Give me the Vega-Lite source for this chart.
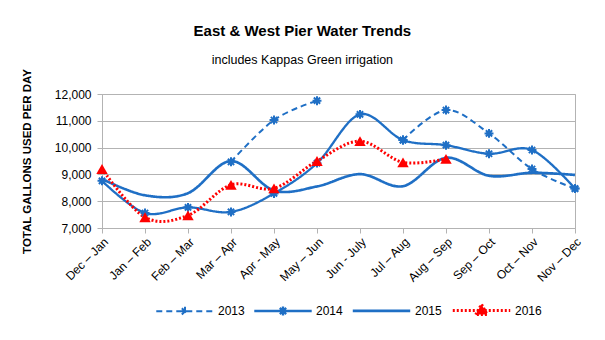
{
  "$schema": "https://vega.github.io/schema/vega-lite/v6.json",
  "width": 473,
  "height": 134,
  "padding": {"left": 21, "top": 23, "right": 10, "bottom": 5},
  "background": "white",
  "title": {
    "text": "East & West Pier Water Trends",
    "subtitle": "includes Kappas Green irrigation",
    "font": "Liberation Sans",
    "fontSize": 15,
    "fontWeight": "bold",
    "color": "#000000",
    "subtitleFont": "Liberation Sans",
    "subtitleFontSize": 12.5,
    "subtitleColor": "#000000",
    "subtitlePadding": 15,
    "anchor": "middle",
    "frame": "bounds",
    "offset": 2
  },
  "config": {
    "view": {"stroke": "#b3b3b3", "strokeWidth": 1},
    "font": "Liberation Sans",
    "axis": {
      "labelFont": "Liberation Sans",
      "labelFontSize": 12,
      "labelColor": "#000000",
      "domainColor": "#b3b3b3",
      "tickColor": "#b3b3b3",
      "gridColor": "#b3b3b3",
      "tickSize": 5
    }
  },
  "data": {
    "values": [
      {"period": "Mar – Apr", "year": "2013", "gallons": 9470},
      {"period": "Apr - May", "year": "2013", "gallons": 11030},
      {"period": "May – Jun", "year": "2013", "gallons": 11750},
      {"period": "Jun - July", "year": "2013", "gallons": null},
      {"period": "Jul – Aug", "year": "2013", "gallons": 10280},
      {"period": "Aug – Sep", "year": "2013", "gallons": 11400},
      {"period": "Sep – Oct", "year": "2013", "gallons": 10530},
      {"period": "Oct – Nov", "year": "2013", "gallons": 9200},
      {"period": "Nov – Dec", "year": "2013", "gallons": 8470},

      {"period": "Dec – Jan", "year": "2014", "gallons": 8760},
      {"period": "Jan – Feb", "year": "2014", "gallons": 7560},
      {"period": "Feb – Mar", "year": "2014", "gallons": 7770},
      {"period": "Mar – Apr", "year": "2014", "gallons": 7600},
      {"period": "Apr - May", "year": "2014", "gallons": 8290},
      {"period": "May – Jun", "year": "2014", "gallons": 9420},
      {"period": "Jun - July", "year": "2014", "gallons": 11240},
      {"period": "Jul – Aug", "year": "2014", "gallons": 10280},
      {"period": "Aug – Sep", "year": "2014", "gallons": 10090},
      {"period": "Sep – Oct", "year": "2014", "gallons": 9770},
      {"period": "Oct – Nov", "year": "2014", "gallons": 9910},
      {"period": "Nov – Dec", "year": "2014", "gallons": 8470},

      {"period": "Dec – Jan", "year": "2015", "gallons": 8830},
      {"period": "Jan – Feb", "year": "2015", "gallons": 8220},
      {"period": "Feb – Mar", "year": "2015", "gallons": 8300},
      {"period": "Mar – Apr", "year": "2015", "gallons": 9500},
      {"period": "Apr - May", "year": "2015", "gallons": 8400},
      {"period": "May – Jun", "year": "2015", "gallons": 8550},
      {"period": "Jun - July", "year": "2015", "gallons": 9010},
      {"period": "Jul – Aug", "year": "2015", "gallons": 8560},
      {"period": "Aug – Sep", "year": "2015", "gallons": 9620},
      {"period": "Sep – Oct", "year": "2015", "gallons": 8950},
      {"period": "Oct – Nov", "year": "2015", "gallons": 9060},
      {"period": "Nov – Dec", "year": "2015", "gallons": 8980},

      {"period": "Dec – Jan", "year": "2016", "gallons": 9200},
      {"period": "Jan – Feb", "year": "2016", "gallons": 7400},
      {"period": "Feb – Mar", "year": "2016", "gallons": 7470},
      {"period": "Mar – Apr", "year": "2016", "gallons": 8610},
      {"period": "Apr - May", "year": "2016", "gallons": 8480},
      {"period": "May – Jun", "year": "2016", "gallons": 9500},
      {"period": "Jun - July", "year": "2016", "gallons": 10240},
      {"period": "Jul – Aug", "year": "2016", "gallons": 9450},
      {"period": "Aug – Sep", "year": "2016", "gallons": 9580}
    ]
  },
  "encoding": {
    "x": {
      "field": "period",
      "type": "ordinal",
      "sort": ["Dec – Jan", "Jan – Feb", "Feb – Mar", "Mar – Apr", "Apr - May", "May – Jun", "Jun - July", "Jul – Aug", "Aug – Sep", "Sep – Oct", "Oct – Nov", "Nov – Dec"],
      "scale": {"type": "point", "padding": 0},
      "axis": {"title": null, "labelAngle": -45, "labelPadding": 3, "grid": false, "domain": true}
    },
    "y": {
      "field": "gallons",
      "type": "quantitative",
      "scale": {"domain": [7000, 12000], "nice": false, "zero": false},
      "axis": {
        "title": "TOTAL GALLONS USED PER DAY",
        "titleFont": "Liberation Sans",
        "titleFontSize": 11.5,
        "titleFontWeight": "bold",
        "titleColor": "#000000",
        "titlePadding": 22,
        "values": [7000, 8000, 9000, 10000, 11000, 12000],
        "format": ",d",
        "labelPadding": 6,
        "grid": true,
        "domain": true
      }
    }
  },
  "layer": [
    {
      "mark": {"type": "line", "interpolate": "cardinal", "invalid": "break-paths-show-domains"},
      "encoding": {
        "color": {
          "field": "year",
          "type": "nominal",
          "scale": {"domain": ["2013", "2014", "2015", "2016"], "range": ["#1f6fc5", "#1f6fc5", "#1f6fc5", "#ff0000"]},
          "legend": {
            "title": null,
            "orient": "none",
            "legendX": 53,
            "legendY": 186,
            "direction": "horizontal",
            "symbolType": "stroke",
            "symbolSize": 3300,
            "labelFont": "Liberation Sans",
            "labelFontSize": 12,
            "labelColor": "#000000",
            "labelOffset": 3,
            "columnPadding": 4,
            "encode": {
              "symbols": {
                "update": {
                  "shape": {"signal": "datum.value == '2016' ? 'M0,-0.22M0,0.22M-1,0L1,0M-0.2,0.14L0,-0.22L0.2,0.14Z' : datum.value == '2015' ? 'M0,-0.22M0,0.22M-1,0L1,0' : 'M0,-0.22M0,0.22M-1,0L1,0M-0.16,0L0.16,0M0,-0.16L0,0.16M-0.11,-0.11L0.11,0.11M-0.11,0.11L0.11,-0.11'"},
                  "fill": {"signal": "datum.value == '2016' ? '#ff0000' : 'transparent'"}
                }
              }
            }
          }
        },
        "strokeDash": {
          "field": "year",
          "type": "nominal",
          "scale": {"domain": ["2013", "2014", "2015", "2016"], "range": [[6, 4], [1, 0], [1, 0], [2, 2]]},
          "legend": null
        },
        "strokeWidth": {
          "field": "year",
          "type": "nominal",
          "scale": {"domain": ["2013", "2014", "2015", "2016"], "range": [2, 3, 4.5, 3]},
          "legend": null
        }
      }
    },
    {
      "transform": [{"filter": "datum.year == '2013' || datum.year == '2014'"}, {"filter": "datum.gallons != null"}],
      "mark": {
        "type": "point",
        "shape": "M-1,0L1,0M0,-1L0,1M-0.7,-0.7L0.7,0.7M-0.7,0.7L0.7,-0.7",
        "filled": false,
        "stroke": "#1f6fc5",
        "strokeWidth": 2,
        "size": 80,
        "opacity": 1
      }
    },
    {
      "transform": [{"filter": "datum.year == '2016'"}],
      "mark": {
        "type": "point",
        "shape": "triangle-up",
        "filled": true,
        "fill": "#ff0000",
        "size": 130,
        "opacity": 1
      }
    }
  ]
}
